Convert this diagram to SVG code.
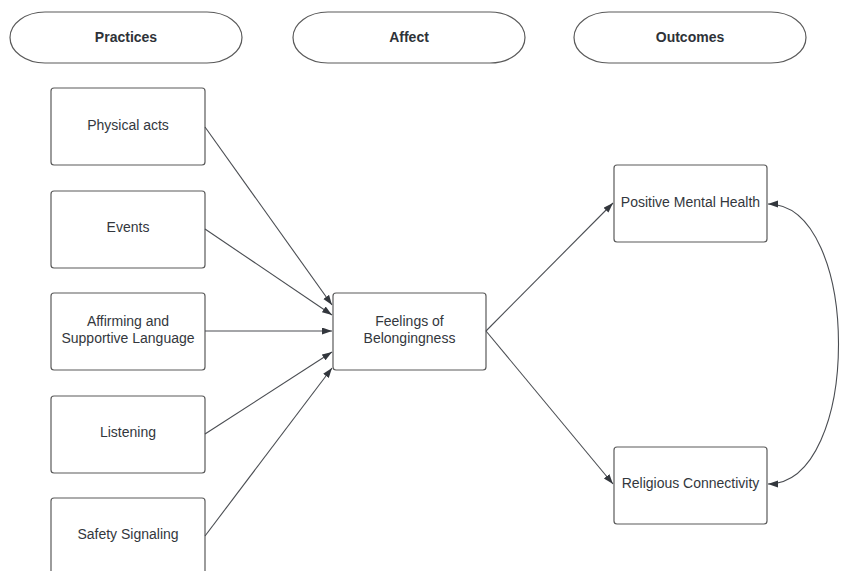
<svg xmlns="http://www.w3.org/2000/svg" width="841" height="571" viewBox="0 0 841 571">
<defs>
<style>
.pill{fill:#fff;stroke:#5a5a5a;stroke-width:1.2}
.box{fill:#fff;stroke:#5a5a5a;stroke-width:1.2}
.hd{font-family:"Liberation Sans",Arial,sans-serif;font-size:14px;font-weight:bold;fill:#2e3238;text-anchor:middle}
.lb{font-family:"Liberation Sans",Arial,sans-serif;font-size:14px;fill:#33373d;text-anchor:middle}
.cn{fill:none;stroke:#4a4d52;stroke-width:1.1}
</style>
<marker id="ah" markerUnits="userSpaceOnUse" markerWidth="11" markerHeight="8" refX="10" refY="3.5" orient="auto-start-reverse">
<path d="M0,0 L10,3.5 L0,7 z" fill="#33373d"/>
</marker>
</defs>
<rect width="841" height="571" fill="#fff"/>
<g id="practices-header"><rect class="pill" x="10" y="12" width="232" height="51" rx="35" ry="25.5"/><text class="hd" x="126" y="42">Practices</text></g>
<g id="affect-header"><rect class="pill" x="293" y="12" width="232" height="51" rx="35" ry="25.5"/><text class="hd" x="409" y="42">Affect</text></g>
<g id="outcomes-header"><rect class="pill" x="574" y="12" width="232" height="51" rx="35" ry="25.5"/><text class="hd" x="690" y="42">Outcomes</text></g>
<g id="physical-acts"><rect class="box" x="51" y="88" width="154" height="77" rx="3"/><text class="lb" x="128" y="130">Physical acts</text></g>
<g id="events"><rect class="box" x="51" y="191" width="154" height="77" rx="3"/><text class="lb" x="128" y="232">Events</text></g>
<g id="affirming"><rect class="box" x="51" y="293" width="154" height="77" rx="3"/><text class="lb" x="128" y="326">Affirming and</text><text class="lb" x="128" y="343">Supportive Language</text></g>
<g id="listening"><rect class="box" x="51" y="396" width="154" height="77" rx="3"/><text class="lb" x="128" y="437">Listening</text></g>
<g id="safety-signaling"><rect class="box" x="51" y="498" width="154" height="77" rx="3"/><text class="lb" x="128" y="539">Safety Signaling</text></g>
<g id="feelings"><rect class="box" x="333" y="293" width="153" height="77" rx="3"/><text class="lb" x="409.5" y="326">Feelings of</text><text class="lb" x="409.5" y="343">Belongingness</text></g>
<g id="positive-mental-health"><rect class="box" x="614" y="165" width="153" height="77" rx="3"/><text class="lb" x="690.5" y="207">Positive Mental Health</text></g>
<g id="religious-connectivity"><rect class="box" x="614" y="447" width="153" height="77" rx="3"/><text class="lb" x="690.5" y="488">Religious Connectivity</text></g>
<g id="connectors">
<path class="cn" d="M205,127 L332,305" marker-end="url(#ah)"/>
<path class="cn" d="M205,229 L332,315" marker-end="url(#ah)"/>
<path class="cn" d="M205,331 L332,331" marker-end="url(#ah)"/>
<path class="cn" d="M205,434 L332,352" marker-end="url(#ah)"/>
<path class="cn" d="M205,536 L332,368" marker-end="url(#ah)"/>
<path class="cn" d="M486,331 L613,203" marker-end="url(#ah)"/>
<path class="cn" d="M486,331 L613,484" marker-end="url(#ah)"/>
<path class="cn" d="M768,204 C862,204 862,484 768,484" marker-start="url(#ah)" marker-end="url(#ah)"/>
</g>
</svg>
